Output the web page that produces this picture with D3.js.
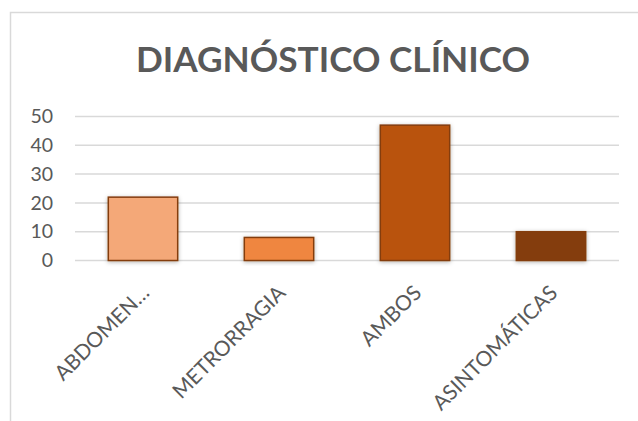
<!DOCTYPE html>
<html>
<head>
<meta charset="utf-8">
<script src="https://cdn.jsdelivr.net/npm/d3@7"></script>
<style>
  body { margin: 0; background: #fff; }
  text { font-family: Lato, "Open Sans", sans-serif; fill: #595959; }
</style>
</head>
<body>
<div id="chart"></div>
<script>
// chart data
const categories = ["ABDOMEN…", "METRORRAGIA", "AMBOS", "ASINTOMÁTICAS"];
const values = [22, 8, 47, 10];
const barColors = ["#F4A878", "#EF8640", "#B9530F", "#843C0C"];
const yTicks = [0, 10, 20, 30, 40, 50];
const title = "DIAGNÓSTICO CLÍNICO";

const width = 638, height = 421;
const margin = { top: 116.5, right: 19, bottom: 160.5, left: 75 };

const svg = d3.select("#chart").append("svg")
    .attr("width", width)
    .attr("height", height);

// soft shadow under the bars
const defs = svg.append("defs");
const shadow = defs.append("filter").attr("id", "shadow")
    .attr("x", "-20%").attr("y", "-20%").attr("width", "140%").attr("height", "140%");
shadow.append("feDropShadow")
    .attr("dx", 0).attr("dy", 1)
    .attr("stdDeviation", 2)
    .attr("flood-color", "#000")
    .attr("flood-opacity", 0.3);

// chart area border (only top and left show inside the window)
svg.append("path")
    .attr("d", "M10.5," + height + "V12.5H" + width)
    .attr("fill", "none")
    .attr("stroke", "#d9d9d9")
    .attr("stroke-width", 1.5);

// title, fitted to its width in the picture
const titleText = svg.append("text")
    .attr("x", 333)
    .attr("y", 72)
    .attr("text-anchor", "middle")
    .style("font-weight", "bold")
    .style("font-size", "32px")
    .text(title);
const tw = titleText.node().getComputedTextLength();
titleText.style("font-size", (32 * 394 / tw) + "px");

const x = d3.scaleBand()
    .domain(categories)
    .range([margin.left, width - margin.right])
    .paddingInner(0.49)
    .paddingOuter(0.245);

const y = d3.scaleLinear()
    .domain([0, 50])
    .range([height - margin.bottom, margin.top]);

// gridlines
svg.append("g")
    .selectAll("line")
    .data(yTicks)
    .join("line")
    .attr("x1", margin.left)
    .attr("x2", width - margin.right)
    .attr("y1", d => y(d))
    .attr("y2", d => y(d))
    .attr("stroke", "#d9d9d9")
    .attr("stroke-width", 1.5);

// y axis labels
const yAxis = svg.append("g")
    .attr("transform", "translate(" + (margin.left - 22) + ",0)")
    .call(d3.axisLeft(y).tickValues(yTicks).tickSize(0).tickPadding(0));
yAxis.select(".domain").remove();
yAxis.selectAll("text")
    .style("font-family", "Lato")
    .style("font-size", "19.5px")
    .attr("fill", "#595959");

// bars
svg.append("g")
    .selectAll("rect")
    .data(values)
    .join("rect")
    .attr("x", (d, i) => x(categories[i]))
    .attr("y", d => y(d))
    .attr("width", x.bandwidth())
    .attr("height", d => y(0) - y(d))
    .attr("fill", (d, i) => barColors[i])
    .attr("stroke", "#843C0C")
    .attr("stroke-width", 1.5)
    .attr("filter", "url(#shadow)");

// x axis labels, rotated; the top right corner of each label sits under its bar
const xAxis = svg.append("g")
    .attr("transform", "translate(0," + y(0) + ")")
    .call(d3.axisBottom(x).tickSize(0).tickPadding(0));
xAxis.select(".domain").remove();
const xLabels = xAxis.selectAll("text")
    .style("font-family", "Lato")
    .style("font-size", "20px")
    .attr("fill", "#595959")
    .attr("text-anchor", "end")
    .attr("y", 0)
    .attr("dy", "0.72em")
    .attr("transform", "translate(-3,23) rotate(-45)");
// fit the longest label to its length in the picture
const longest = xLabels.filter(d => d === "ASINTOMÁTICAS").node().getComputedTextLength();
xLabels.style("font-size", (20 * 166 / longest) + "px");
</script>
</body>
</html>
